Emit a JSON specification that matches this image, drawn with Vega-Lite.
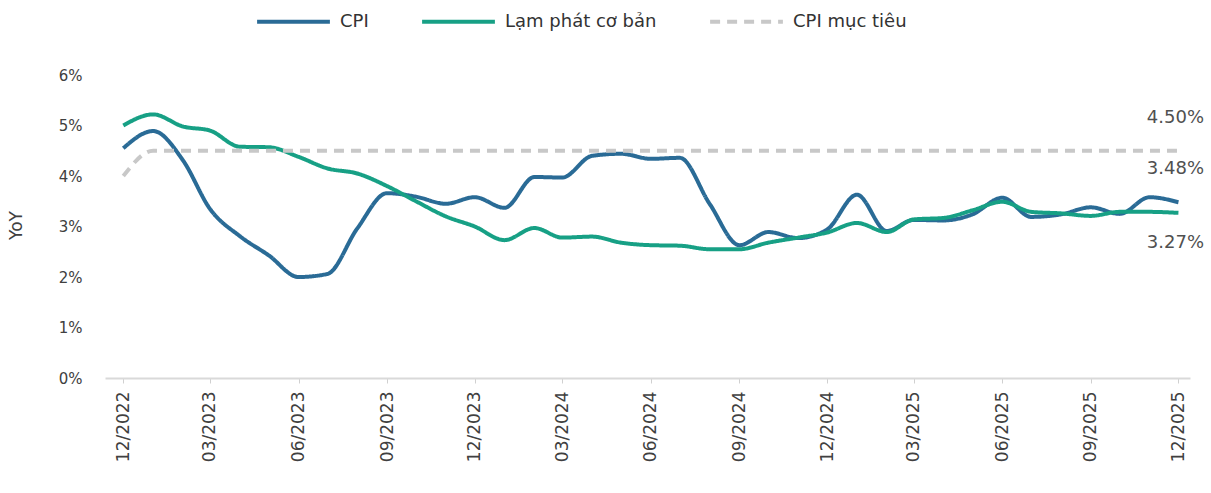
{
  "$schema": "https://vega.github.io/schema/vega-lite/v6.json",
  "width": 1085,
  "height": 303,
  "autosize": {"type": "none"},
  "padding": {"left": 105, "top": 75, "right": 21, "bottom": 115},
  "background": "white",
  "config": {
    "font": "DejaVu Sans",
    "view": {"stroke": null},
    "axis": {"grid": false}
  },
  "datasets": {
    "series": [
      {"date": "2022-12-01T00:00:00", "series": "CPI", "value": 4.55},
      {"date": "2023-01-01T00:00:00", "series": "CPI", "value": 4.89},
      {"date": "2023-02-01T00:00:00", "series": "CPI", "value": 4.31},
      {"date": "2023-03-01T00:00:00", "series": "CPI", "value": 3.35},
      {"date": "2023-04-01T00:00:00", "series": "CPI", "value": 2.81},
      {"date": "2023-05-01T00:00:00", "series": "CPI", "value": 2.43},
      {"date": "2023-06-01T00:00:00", "series": "CPI", "value": 2.00},
      {"date": "2023-07-01T00:00:00", "series": "CPI", "value": 2.06},
      {"date": "2023-08-01T00:00:00", "series": "CPI", "value": 2.96},
      {"date": "2023-09-01T00:00:00", "series": "CPI", "value": 3.66},
      {"date": "2023-10-01T00:00:00", "series": "CPI", "value": 3.59},
      {"date": "2023-11-01T00:00:00", "series": "CPI", "value": 3.45},
      {"date": "2023-12-01T00:00:00", "series": "CPI", "value": 3.58},
      {"date": "2024-01-01T00:00:00", "series": "CPI", "value": 3.37},
      {"date": "2024-02-01T00:00:00", "series": "CPI", "value": 3.98},
      {"date": "2024-03-01T00:00:00", "series": "CPI", "value": 3.97},
      {"date": "2024-04-01T00:00:00", "series": "CPI", "value": 4.40},
      {"date": "2024-05-01T00:00:00", "series": "CPI", "value": 4.44},
      {"date": "2024-06-01T00:00:00", "series": "CPI", "value": 4.34},
      {"date": "2024-07-01T00:00:00", "series": "CPI", "value": 4.36},
      {"date": "2024-08-01T00:00:00", "series": "CPI", "value": 3.45},
      {"date": "2024-09-01T00:00:00", "series": "CPI", "value": 2.63},
      {"date": "2024-10-01T00:00:00", "series": "CPI", "value": 2.89},
      {"date": "2024-11-01T00:00:00", "series": "CPI", "value": 2.77},
      {"date": "2024-12-01T00:00:00", "series": "CPI", "value": 2.94},
      {"date": "2025-01-01T00:00:00", "series": "CPI", "value": 3.63},
      {"date": "2025-02-01T00:00:00", "series": "CPI", "value": 2.91},
      {"date": "2025-03-01T00:00:00", "series": "CPI", "value": 3.13},
      {"date": "2025-04-01T00:00:00", "series": "CPI", "value": 3.12},
      {"date": "2025-05-01T00:00:00", "series": "CPI", "value": 3.24},
      {"date": "2025-06-01T00:00:00", "series": "CPI", "value": 3.57},
      {"date": "2025-07-01T00:00:00", "series": "CPI", "value": 3.19},
      {"date": "2025-08-01T00:00:00", "series": "CPI", "value": 3.24},
      {"date": "2025-09-01T00:00:00", "series": "CPI", "value": 3.38},
      {"date": "2025-10-01T00:00:00", "series": "CPI", "value": 3.25},
      {"date": "2025-11-01T00:00:00", "series": "CPI", "value": 3.58},
      {"date": "2025-12-01T00:00:00", "series": "CPI", "value": 3.48},
      {"date": "2022-12-01T00:00:00", "series": "Lạm phát cơ bản", "value": 5.00},
      {"date": "2023-01-01T00:00:00", "series": "Lạm phát cơ bản", "value": 5.22},
      {"date": "2023-02-01T00:00:00", "series": "Lạm phát cơ bản", "value": 4.98},
      {"date": "2023-03-01T00:00:00", "series": "Lạm phát cơ bản", "value": 4.90},
      {"date": "2023-04-01T00:00:00", "series": "Lạm phát cơ bản", "value": 4.58},
      {"date": "2023-05-01T00:00:00", "series": "Lạm phát cơ bản", "value": 4.57},
      {"date": "2023-06-01T00:00:00", "series": "Lạm phát cơ bản", "value": 4.38},
      {"date": "2023-07-01T00:00:00", "series": "Lạm phát cơ bản", "value": 4.15},
      {"date": "2023-08-01T00:00:00", "series": "Lạm phát cơ bản", "value": 4.05},
      {"date": "2023-09-01T00:00:00", "series": "Lạm phát cơ bản", "value": 3.80},
      {"date": "2023-10-01T00:00:00", "series": "Lạm phát cơ bản", "value": 3.50},
      {"date": "2023-11-01T00:00:00", "series": "Lạm phát cơ bản", "value": 3.20},
      {"date": "2023-12-01T00:00:00", "series": "Lạm phát cơ bản", "value": 3.00},
      {"date": "2024-01-01T00:00:00", "series": "Lạm phát cơ bản", "value": 2.73},
      {"date": "2024-02-01T00:00:00", "series": "Lạm phát cơ bản", "value": 2.97},
      {"date": "2024-03-01T00:00:00", "series": "Lạm phát cơ bản", "value": 2.78},
      {"date": "2024-04-01T00:00:00", "series": "Lạm phát cơ bản", "value": 2.80},
      {"date": "2024-05-01T00:00:00", "series": "Lạm phát cơ bản", "value": 2.68},
      {"date": "2024-06-01T00:00:00", "series": "Lạm phát cơ bản", "value": 2.63},
      {"date": "2024-07-01T00:00:00", "series": "Lạm phát cơ bản", "value": 2.62},
      {"date": "2024-08-01T00:00:00", "series": "Lạm phát cơ bản", "value": 2.55},
      {"date": "2024-09-01T00:00:00", "series": "Lạm phát cơ bản", "value": 2.55},
      {"date": "2024-10-01T00:00:00", "series": "Lạm phát cơ bản", "value": 2.68},
      {"date": "2024-11-01T00:00:00", "series": "Lạm phát cơ bản", "value": 2.78},
      {"date": "2024-12-01T00:00:00", "series": "Lạm phát cơ bản", "value": 2.88},
      {"date": "2025-01-01T00:00:00", "series": "Lạm phát cơ bản", "value": 3.07},
      {"date": "2025-02-01T00:00:00", "series": "Lạm phát cơ bản", "value": 2.89},
      {"date": "2025-03-01T00:00:00", "series": "Lạm phát cơ bản", "value": 3.14},
      {"date": "2025-04-01T00:00:00", "series": "Lạm phát cơ bản", "value": 3.17},
      {"date": "2025-05-01T00:00:00", "series": "Lạm phát cơ bản", "value": 3.32},
      {"date": "2025-06-01T00:00:00", "series": "Lạm phát cơ bản", "value": 3.49},
      {"date": "2025-07-01T00:00:00", "series": "Lạm phát cơ bản", "value": 3.29},
      {"date": "2025-08-01T00:00:00", "series": "Lạm phát cơ bản", "value": 3.26},
      {"date": "2025-09-01T00:00:00", "series": "Lạm phát cơ bản", "value": 3.21},
      {"date": "2025-10-01T00:00:00", "series": "Lạm phát cơ bản", "value": 3.29},
      {"date": "2025-11-01T00:00:00", "series": "Lạm phát cơ bản", "value": 3.29},
      {"date": "2025-12-01T00:00:00", "series": "Lạm phát cơ bản", "value": 3.27},
      {"date": "2022-12-01T00:00:00", "series": "CPI mục tiêu", "value": 4.0},
      {"date": "2023-01-01T00:00:00", "series": "CPI mục tiêu", "value": 4.5},
      {"date": "2023-12-01T00:00:00", "series": "CPI mục tiêu", "value": 4.5},
      {"date": "2024-12-01T00:00:00", "series": "CPI mục tiêu", "value": 4.5},
      {"date": "2025-12-01T00:00:00", "series": "CPI mục tiêu", "value": 4.5}
    ],
    "labels": [
      {"date": "2025-12-01T00:00:00", "value": 4.5, "text": "4.50%", "pos": "above"},
      {"date": "2025-12-01T00:00:00", "value": 3.48, "text": "3.48%", "pos": "above"},
      {"date": "2025-12-01T00:00:00", "value": 3.27, "text": "3.27%", "pos": "below"}
    ]
  },
  "layer": [
    {
      "data": {"name": "series"},
      "mark": {"type": "line", "interpolate": "monotone", "strokeCap": "butt"},
      "encoding": {
        "x": {
          "field": "date",
          "type": "temporal",
          "scale": {"domain": [{"year": 2022, "month": 11, "date": 12}, {"year": 2025, "month": 12, "date": 13}]},
          "axis": {
            "title": null,
            "values": [
              {"year": 2022, "month": 12, "date": 1},
              {"year": 2023, "month": 3, "date": 1},
              {"year": 2023, "month": 6, "date": 1},
              {"year": 2023, "month": 9, "date": 1},
              {"year": 2023, "month": 12, "date": 1},
              {"year": 2024, "month": 3, "date": 1},
              {"year": 2024, "month": 6, "date": 1},
              {"year": 2024, "month": 9, "date": 1},
              {"year": 2024, "month": 12, "date": 1},
              {"year": 2025, "month": 3, "date": 1},
              {"year": 2025, "month": 6, "date": 1},
              {"year": 2025, "month": 9, "date": 1},
              {"year": 2025, "month": 12, "date": 1}
            ],
            "format": "%m/%Y",
            "labelAngle": -90,
            "labelFontSize": 17,
            "labelColor": "#404040",
            "labelPadding": 8,
            "tickColor": "#d0d0d0",
            "tickSize": 5,
            "domainColor": "#d9d9d9",
            "domainWidth": 2
          }
        },
        "y": {
          "field": "value",
          "type": "quantitative",
          "scale": {"domain": [0, 6]},
          "axis": {
            "values": [0, 1, 2, 3, 4, 5, 6],
            "labelExpr": "datum.value + '%'",
            "domain": false,
            "ticks": false,
            "labelPadding": 23,
            "labelFontSize": 15,
            "labelColor": "#404040",
            "title": "YoY",
            "titleFontSize": 17,
            "titleFontWeight": "normal",
            "titleColor": "#404040",
            "titleX": -80,
            "titleY": 150
          }
        },
        "color": {
          "field": "series",
          "type": "nominal",
          "scale": {"domain": ["CPI", "Lạm phát cơ bản", "CPI mục tiêu"], "range": ["#2a6b96", "#17a085", "#c8c8c8"]},
          "legend": {
            "orient": "none",
            "legendX": 150,
            "legendY": -92,
            "direction": "horizontal",
            "title": null,
            "symbolType": "stroke",
            "symbolSize": 5300,
            "symbolStrokeWidth": 4,
            "labelFontSize": 18,
            "labelColor": "#333333",
            "columnPadding": 45,
            "labelOffset": 8
          }
        },
        "strokeDash": {
          "field": "series",
          "type": "nominal",
          "scale": {"domain": ["CPI", "Lạm phát cơ bản", "CPI mục tiêu"], "range": [[1, 0], [1, 0], [10, 7]]},
          "legend": {
            "orient": "none",
            "legendX": 150,
            "legendY": -92,
            "direction": "horizontal",
            "title": null,
            "symbolType": "stroke",
            "symbolSize": 5300,
            "symbolStrokeWidth": 4,
            "labelFontSize": 18,
            "labelColor": "#333333",
            "columnPadding": 45,
            "labelOffset": 8
          }
        },
        "strokeWidth": {"value": 4}
      }
    },
    {
      "data": {"name": "labels"},
      "transform": [{"filter": "datum.pos === 'above'"}],
      "mark": {"type": "text", "fontSize": 18, "color": "#505050", "align": "center", "dx": -3, "dy": -33},
      "encoding": {
        "x": {"field": "date", "type": "temporal"},
        "y": {"field": "value", "type": "quantitative"},
        "text": {"field": "text"}
      }
    },
    {
      "data": {"name": "labels"},
      "transform": [{"filter": "datum.pos === 'below'"}],
      "mark": {"type": "text", "fontSize": 18, "color": "#505050", "align": "center", "dx": -3, "dy": 30},
      "encoding": {
        "x": {"field": "date", "type": "temporal"},
        "y": {"field": "value", "type": "quantitative"},
        "text": {"field": "text"}
      }
    }
  ]
}
